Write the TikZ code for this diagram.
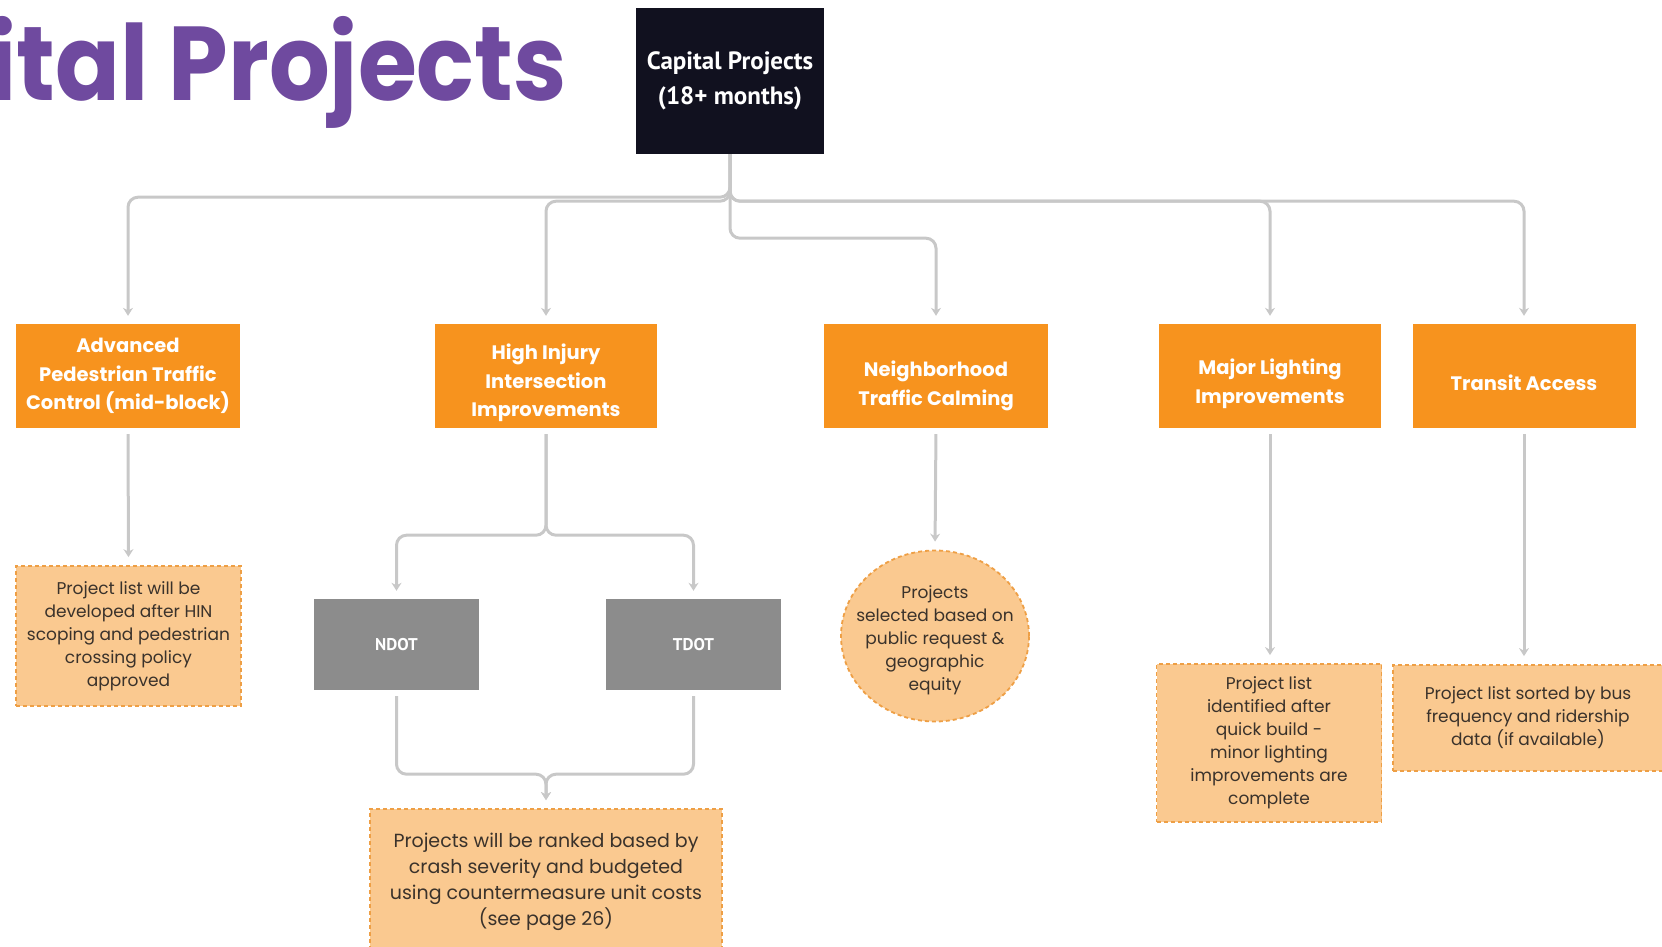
\documentclass[tikz,border=0pt]{standalone}
\usepackage{fontspec}
\setmainfont{Poppins}
\newfontfamily\capfont{PT Sans}
\usetikzlibrary{arrows.meta,shapes.geometric}

\definecolor{titlepurple}{HTML}{6F4A9F}
\definecolor{navy}{HTML}{11111F}
\definecolor{boxorange}{HTML}{F7931E}
\definecolor{peach}{HTML}{FAC990}
\definecolor{dashorange}{HTML}{EE9F45}
\definecolor{agencygray}{HTML}{8C8C8C}
\definecolor{linkgray}{HTML}{C8C8C8}
\definecolor{notetext}{HTML}{3A322B}

\tikzset{
  topbox/.style={fill=navy, text=white, minimum width=188pt, minimum height=146pt,
    inner sep=0pt, align=center, font=\capfont\bfseries\fontsize{25}{35}\selectfont},
  category/.style={fill=boxorange, minimum height=104pt, inner sep=0pt},
  cattext/.style={text=white, inner sep=0pt, align=center,
    font=\bfseries\fontsize{19.5}{28.6}\selectfont},
  agency/.style={fill=agencygray, text=white, minimum height=91pt, inner sep=0pt,
    font=\capfont\bfseries\fontsize{17}{20}\selectfont},
  note/.style={fill=peach, draw=dashorange, line width=1.8pt, dash pattern=on 4pt off 3pt,
    text=notetext, align=center, inner sep=0pt, font=\fontsize{17}{23}\selectfont},
  notetxt/.style={text=notetext, align=center, inner sep=0pt, font=\fontsize{17}{23}\selectfont},
  link/.style={draw=linkgray, line width=3pt, rounded corners=10pt,
    -{Stealth[length=8pt,width=10pt]}, shorten >=8pt},
}

\begin{document}
\begin{tikzpicture}[x=1pt,y=-1pt]
\useasboundingbox (0,0) rectangle (1662,947);
\clip (0,0) rectangle (1662,947);

% heading
\node[anchor=base east, text=titlepurple, inner sep=0pt,
  font=\bfseries\fontsize{105}{105}\selectfont] (title) at (567,101)
  {\scalebox{0.91}[1]{ital Projects}};

% root
\node[topbox] (cap) at (730,81) {Capital Projects\\(18+ months)};

% categories: boxes, then their labels
\node[category, minimum width=224pt] (adv) at (128,376) {};
\node[category, minimum width=222pt] (hii) at (546,376) {};
\node[category, minimum width=224pt] (ntc) at (936,376) {};
\node[category, minimum width=222pt] (mlt) at (1270,376) {};
\node[category, minimum width=223pt] (tra) at (1524,376) {};

\node[cattext] (advtext) at ([yshift=0pt]adv.center) {Advanced\\Pedestrian Traffic\\Control (mid-block)};
\node[cattext] (hiitext) at ([yshift=-7pt]hii.center) {High Injury\\Intersection\\Improvements};
\node[cattext] (ntctext) at ([yshift=-10pt]ntc.center) {Neighborhood\\Traffic Calming};
\node[cattext] (mlttext) at ([yshift=-8pt]mlt.center) {Major Lighting\\Improvements};
\node[cattext] (tratext) at ([yshift=-7pt]tra.center) {Transit Access};

% agencies
\node[agency, minimum width=165pt] (ndot) at (396.5,644.5) {NDOT};
\node[agency, minimum width=175pt] (tdot) at (693.5,644.5) {TDOT};

% notes
\node[note, minimum width=225pt, minimum height=140pt] (advnote) at (128.5,636)
  {Project list will be\\developed after HIN\\scoping and pedestrian\\crossing policy\\approved};
\node[note, ellipse, minimum width=188pt, minimum height=171pt] (ntcnote) at (935,636) {};
\node[notetxt] (ntcnotetext) at ([yshift=-4pt]ntcnote.center)
  {Projects\\selected based on\\public request \&\\geographic\\equity};
\node[note, minimum width=225pt, minimum height=158pt] (mltnote) at (1269,743)
  {Project list\\identified after\\quick build -\\minor lighting\\improvements are\\complete};
\node[note, minimum width=270pt, minimum height=106pt] (tranote) at (1528,718)
  {Project list sorted by bus\\frequency and ridership\\data (if available)};
\node[note, minimum width=352pt, minimum height=146pt, font=\fontsize{19}{25.8}\selectfont]
  (rank) at (546,882)
  {Projects will be ranked based by\\crash severity and budgeted\\using countermeasure unit costs\\(see page 26)};

% root to categories
\draw[link] (cap.south) -- ++(0,43) -| (adv.north);
\draw[link] (cap.south) -- ++(0,47) -| (hii.north);
\draw[link] (cap.south) -- ++(0,84) -| (ntc.north);
\draw[link] (cap.south) -- ++(0,47) -| (mlt.north);
\draw[link] (cap.south) -- ++(0,47) -| (tra.north);

% categories to notes
\draw[link, shorten <=6pt] (adv.south) -- (advnote.north);
\draw[link, shorten <=6pt] (ntc.south) -- (ntcnote.north);
\draw[link, shorten <=6pt] (mlt.south) -- (mlt.south |- mltnote.north);
\draw[link, shorten <=6pt] (tra.south) -- (tra.south |- tranote.north);

% high injury split and merge
\draw[link, shorten <=6pt] (hii.south) -- ++(0,107) -| (ndot.north);
\draw[link, shorten <=6pt] (hii.south) -- ++(0,107) -| (tdot.north);
\draw[link, shorten <=6pt] (ndot.south) -- ++(0,84) -| (rank.north);
\draw[link, shorten <=6pt] (tdot.south) -- ++(0,84) -| (rank.north);
\end{tikzpicture}
\end{document}
